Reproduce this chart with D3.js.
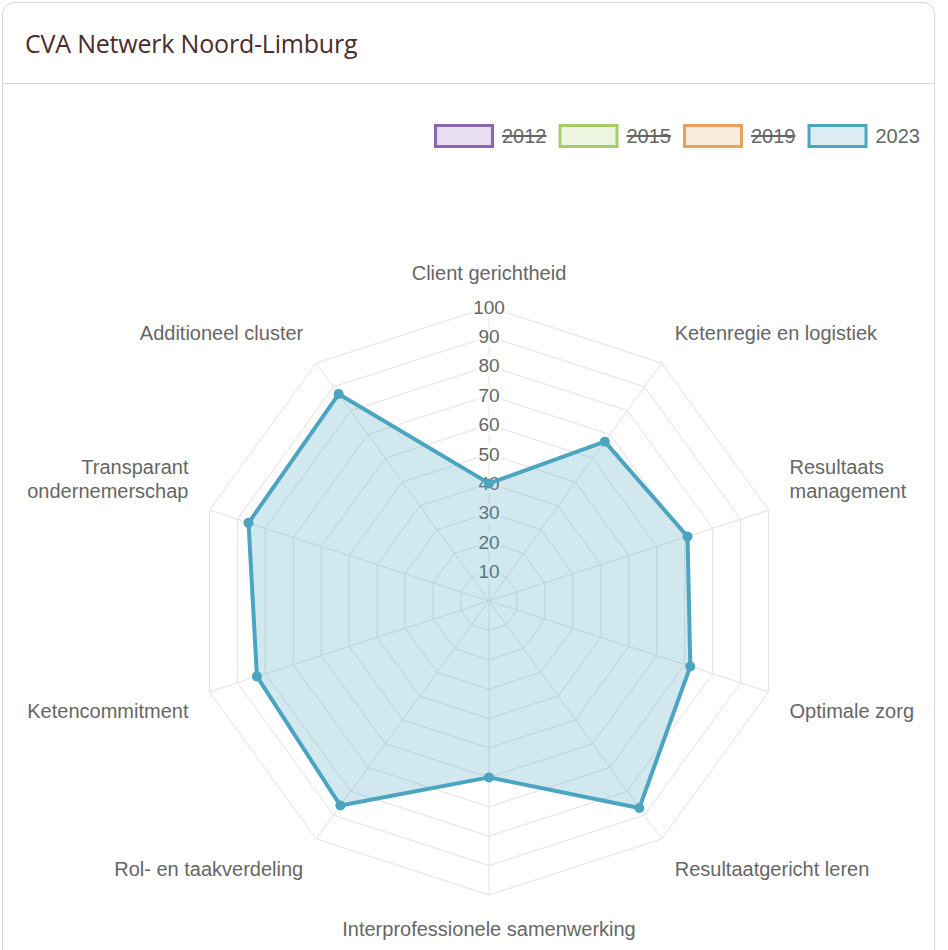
<!DOCTYPE html>
<html>
<head>
<meta charset="utf-8">
<title>CVA Netwerk Noord-Limburg</title>
<script src="https://d3js.org/d3.v7.min.js"></script>
<style>
body { margin: 0; background: #fff; }
#card {
  position: absolute; left: 2px; top: 2px; width: 933px; height: 1000px;
  border: 1px solid #d6d6d6; border-radius: 12px; box-sizing: border-box;
}
#card h2 {
  margin: 0; height: 80px; line-height: 80px; padding-left: 22px;
  font-family: "Open Sans", sans-serif; font-weight: 400; font-size: 25px;
  color: #4b2b2b; border-bottom: 1px solid #d6d6d6; letter-spacing: -0.2px;
}
svg { position: absolute; left: 0; top: 0; }
</style>
</head>
<body>
<div id="card"><h2>CVA Netwerk Noord-Limburg</h2></div>
<div id="chart"></div>
<script>
// axes of the radar, clockwise from the top
var axes = ["Client gerichtheid", "Ketenregie en logistiek", "Resultaats\nmanagement",
  "Optimale zorg", "Resultaatgericht leren", "Interprofessionele samenwerking",
  "Rol- en taakverdeling", "Ketencommitment", "Transparant\nondernemerschap", "Additioneel cluster"];

// only 2023 is shown, the older years are switched off in the legend
var years = ["2012", "2015", "2019", "2023"];
var hidden = [true, true, true, false];
var values2023 = [40, 67, 71, 72, 87, 60, 86, 83, 86, 87];

var ticks = [10, 20, 30, 40, 50, 60, 70, 80, 90, 100];

var strokes = ["#8b66b3", "#a6cd68", "#e8a157", "#4ba4c0"];
var fills = ["rgba(139,102,179,0.2)", "rgba(166,205,104,0.2)", "rgba(232,161,87,0.2)", "rgba(75,164,192,0.25)"];

var width = 948, height = 950;
var cx = 489, cy = 601, R = 294;
var font = "'Liberation Sans', Arial, Helvetica, sans-serif";

var svg = d3.select("#chart").append("svg")
  .attr("width", width).attr("height", height);

var r = d3.scaleLinear().domain([0, 100]).range([0, R]);
var angle = d3.scaleLinear().domain([0, axes.length]).range([0, 2 * Math.PI]);

function pt(i, v) {
  var a = angle(i);
  return [cx + r(v) * Math.sin(a), cy - r(v) * Math.cos(a)];
}

// grid rings
var grid = svg.append("g");
ticks.forEach(function(t) {
  grid.append("polygon")
    .attr("points", axes.map(function(d, i) { return pt(i, t).join(","); }).join(" "))
    .attr("fill", "none").attr("stroke", "#e2e2e2").attr("stroke-width", 1);
});
axes.forEach(function(d, i) {
  var p = pt(i, 100);
  grid.append("line").attr("x1", cx).attr("y1", cy).attr("x2", p[0]).attr("y2", p[1])
    .attr("stroke", "#e2e2e2").attr("stroke-width", 1);
});

// tick labels with a light backdrop
var tl = svg.append("g").attr("font-family", font).attr("font-size", 19).attr("fill", "#666");
ticks.forEach(function(t) {
  var g = tl.append("g");
  var txt = g.append("text").attr("x", cx).attr("y", cy - r(t)).attr("dy", "0.35em")
    .attr("text-anchor", "middle").text(t);
  var w = txt.node().getComputedTextLength();
  g.insert("rect", "text").attr("x", cx - w / 2 - 2).attr("y", cy - r(t) - 10)
    .attr("width", w + 4).attr("height", 20).attr("fill", "rgba(255,255,255,0.75)");
});

// point labels
var pl = svg.append("g").attr("font-family", font).attr("font-size", 20).attr("fill", "#666");
axes.forEach(function(d, i) {
  var a = angle(i) * 180 / Math.PI;
  var p = pt(i, 100 * (R + 22) / R);
  var lines = d.split("\n");
  var lh = 24, h = lines.length * lh;
  var anchor = (a === 0 || a === 180) ? "middle" : (a < 180 ? "start" : "end");
  var top;
  if (a === 90 || a === 270) top = p[1] - h / 2;
  else if (a < 90 || a > 270) top = p[1] - h;
  else top = p[1];
  lines.forEach(function(l, j) {
    pl.append("text").attr("x", p[0]).attr("y", top + j * lh + lh / 2).attr("dy", "0.35em")
      .attr("text-anchor", anchor).text(l);
  });
});

// 2023 dataset
var line = d3.lineRadial().angle(function(d, i) { return angle(i); })
  .radius(function(d) { return r(d); }).curve(d3.curveLinearClosed);
var ds = svg.append("g").attr("transform", "translate(" + cx + "," + cy + ")");
ds.append("path").datum(values2023).attr("d", line)
  .attr("fill", fills[3]).attr("stroke", strokes[3]).attr("stroke-width", 4)
  .attr("stroke-linejoin", "round");
ds.selectAll("circle").data(values2023).enter().append("circle")
  .attr("cx", function(d, i) { return r(d) * Math.sin(angle(i)); })
  .attr("cy", function(d, i) { return -r(d) * Math.cos(angle(i)); })
  .attr("r", 5).attr("fill", strokes[3]);

// legend
var lg = svg.append("g").attr("font-family", font).attr("font-size", 20);
var x = 0;
years.forEach(function(y, i) {
  var g = lg.append("g");
  g.append("rect").attr("x", x + 1.5).attr("y", 1.5).attr("width", 57).attr("height", 21)
    .attr("fill", fills[i].replace(/0\.2\d?\)/, "0.2)")).attr("stroke", strokes[i]).attr("stroke-width", 3);
  var t = g.append("text").attr("x", x + 68).attr("y", 12).attr("dy", "0.35em")
    .attr("fill", "#666").text(y);
  var w = t.node().getComputedTextLength();
  if (hidden[i]) {
    g.append("line").attr("x1", x + 68).attr("x2", x + 68 + w).attr("y1", 12).attr("y2", 12)
      .attr("stroke", "#666").attr("stroke-width", 2);
  }
  x += 68 + w + 12;
});
var total = x - 12;
lg.attr("transform", "translate(" + (920 - total) + ",124)");
</script>
</body>
</html>
